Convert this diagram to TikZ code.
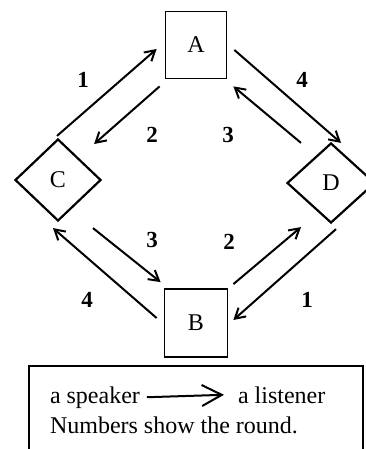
\documentclass[tikz,border=0pt]{standalone}
\usepackage{fontspec}
\setmainfont{Liberation Serif}
\usetikzlibrary{positioning,calc,shapes.geometric,arrows.meta}

\begin{document}
\begin{tikzpicture}[
  x=0.5pt, y=-0.5pt,
  line width=1pt,
  member/.style={rectangle, draw, line width=0.9pt, inner sep=0pt, font=\fontsize{12}{14}\selectfont},
  turned/.style={diamond, draw, line width=1.1pt, inner sep=0pt, minimum width=43pt, minimum height=41pt, font=\fontsize{12}{14}\selectfont},
  talk/.style={-{Straight Barb[length=5pt,width=5.8pt]}},
  round/.style={font=\fontsize{11.5}{13}\selectfont\bfseries},
  legtext/.style={anchor=base west, inner sep=0pt, font=\fontsize{12}{14}\selectfont}
]
  \useasboundingbox (0,0) rectangle (365,449);

  \node (A) [member, minimum width=30.5pt, minimum height=33.5pt] at (196,45) {A};
  \node (B) [member, minimum width=31.5pt, minimum height=34pt] at (196,323) {B};
  \node (C) [turned] at (58,180) {C};
  \node (D) [turned, minimum width=44pt, minimum height=40pt] at (331,183) {D};

  \draw[talk] ($(C.north)+(-1,-2)$) -- ($(A.west)+(-8,4)$);
  \draw[talk] ($(A.south west)+(-5,7)$) -- ($(C.east)+(-8,-36)$);
  \draw[talk] ($(D.north)+(-30,1)$) -- ($(A.south east)+(6,7)$);
  \draw[talk] ($(A.east)+(7,5)$) -- ($(D.north)+(10,1)$);
  \draw[talk] ($(B.west)+(-7,-5)$) -- ($(C.south)+(-5,6)$);
  \draw[talk] ($(C.south)+(35,6)$) -- ($(B.north west)+(-3,-6)$);
  \draw[talk] ($(B.north east)+(5,-4)$) -- ($(D.south)+(-30,3)$);
  \draw[talk] ($(D.south)+(5,5)$) -- ($(B.east)+(5,-3)$);

  \node (ca) [round] at (83,80) {1};
  \node (ac) [round] at (152,135) {2};
  \node (da) [round] at (228,135) {3};
  \node (ad) [round] at (302,80) {4};
  \node (bc) [round] at (87,300) {4};
  \node (cb) [round] at (152,240) {3};
  \node (bd) [round] at (229,242) {2};
  \node (db) [round] at (307,300) {1};

  \node (legend) [draw, line width=1pt, anchor=north west, minimum width=167pt, minimum height=55pt] at (28,365) {};
  \node (speaker) [legtext] at (49,403) {a speaker};
  \node (listener) [legtext] at (237,403) {a listener};
  \node (rounds) [legtext] at (49,433) {Numbers show the round.};
  \draw[-{Straight Barb[length=10pt,width=10.5pt]}] ($(speaker.east)+(6,0)$) -- ($(listener.west)+(-13,0)$);
\end{tikzpicture}
\end{document}
